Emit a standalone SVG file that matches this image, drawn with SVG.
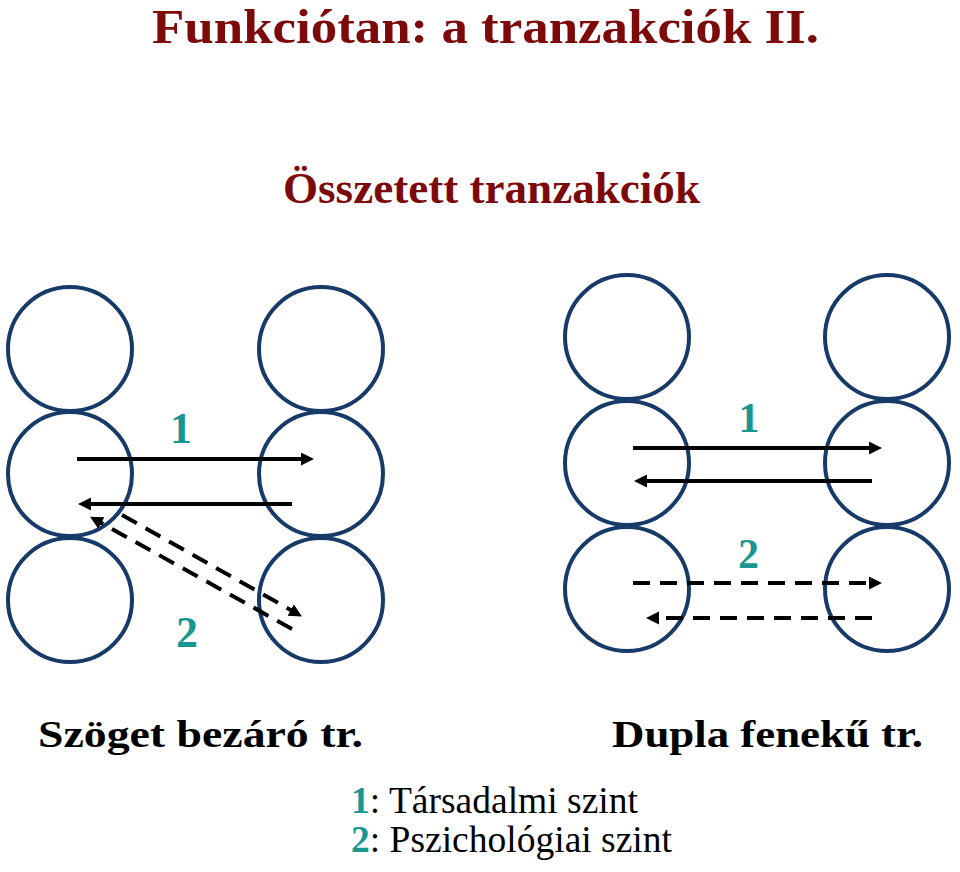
<svg xmlns="http://www.w3.org/2000/svg" width="960" height="872" viewBox="0 0 960 872">
<style>
.c{fill:none;stroke:#173a68;stroke-width:4}
.a{stroke:#000;stroke-width:4;fill:none;marker-end:url(#ah)}
.d{stroke-dasharray:17 10}
.title{font-family:"Liberation Serif","Times New Roman",serif;font-weight:bold;fill:#7d0a0a}
.sub{font-family:"Liberation Serif","Times New Roman",serif;font-weight:bold;fill:#000}
.num{font-family:"Liberation Serif","Times New Roman",serif;font-weight:bold;fill:#1a9690}
.leg{font-family:"Liberation Serif","Times New Roman",serif;fill:#000}
</style>
<defs>
<marker id="ah" markerUnits="userSpaceOnUse" markerWidth="16" markerHeight="16" refX="1" refY="6.5" orient="auto">
<path d="M0,0 L13,6.5 L0,13 z" fill="#000"/>
</marker>
</defs>
<rect width="960" height="872" fill="#fff"/>
<text class="title" x="152" y="43" font-size="48" textLength="667" lengthAdjust="spacingAndGlyphs">Funkciótan: a tranzakciók II.</text>
<text class="title" x="283" y="203" font-size="45" textLength="417" lengthAdjust="spacingAndGlyphs">Összetett tranzakciók</text>

<g id="left-set">
<g id="L-tl"><circle class="c" cx="70" cy="349" r="62"/></g>
<g id="L-ml"><circle class="c" cx="70" cy="474" r="62"/></g>
<g id="L-bl"><circle class="c" cx="70" cy="600" r="62"/></g>
<g id="L-tr"><circle class="c" cx="321" cy="349" r="62"/></g>
<g id="L-mr"><circle class="c" cx="321" cy="474" r="62"/></g>
<g id="L-br"><circle class="c" cx="321" cy="600" r="62"/></g>
</g>
<g id="right-set">
<g id="R-tl"><circle class="c" cx="627" cy="337" r="62"/></g>
<g id="R-ml"><circle class="c" cx="627" cy="463" r="62"/></g>
<g id="R-bl"><circle class="c" cx="627" cy="589" r="62"/></g>
<g id="R-tr"><circle class="c" cx="887" cy="337" r="62"/></g>
<g id="R-mr"><circle class="c" cx="887" cy="463" r="62"/></g>
<g id="R-br"><circle class="c" cx="887" cy="589" r="62"/></g>
</g>

<g id="connectors">
<line class="a" x1="77" y1="459" x2="302" y2="459"/>
<line class="a" x1="292" y1="504" x2="90" y2="504"/>
<line class="a d" x1="122" y1="515" x2="291.5" y2="610.5"/>
<line class="a d" x1="292" y1="629" x2="100.5" y2="522.5"/>
<line class="a" x1="633" y1="448" x2="870" y2="448"/>
<line class="a" x1="872" y1="481" x2="646" y2="481"/>
<line class="a d" x1="633" y1="583" x2="870" y2="583"/>
<line class="a d" x1="872" y1="618" x2="658" y2="618"/>
</g>

<g id="labels">
<text class="num" x="181" y="443" font-size="44" text-anchor="middle">1</text>
<text class="num" x="187" y="647" font-size="44" text-anchor="middle">2</text>
<text class="num" x="749" y="432" font-size="42" text-anchor="middle">1</text>
<text class="num" x="748.5" y="568" font-size="42" text-anchor="middle">2</text>
</g>

<text class="sub" x="38" y="747" font-size="37" textLength="325" lengthAdjust="spacingAndGlyphs">Szöget bezáró tr.</text>
<text class="sub" x="612" y="747" font-size="37" textLength="311" lengthAdjust="spacingAndGlyphs">Dupla fenekű tr.</text>

<g id="legend">
<text class="leg" x="351" y="813" font-size="37" textLength="287" lengthAdjust="spacingAndGlyphs"><tspan class="num">1</tspan>: Társadalmi szint</text>
<text class="leg" x="351" y="852" font-size="37" textLength="321" lengthAdjust="spacingAndGlyphs"><tspan class="num">2</tspan>: Pszichológiai szint</text>
</g>
</svg>
